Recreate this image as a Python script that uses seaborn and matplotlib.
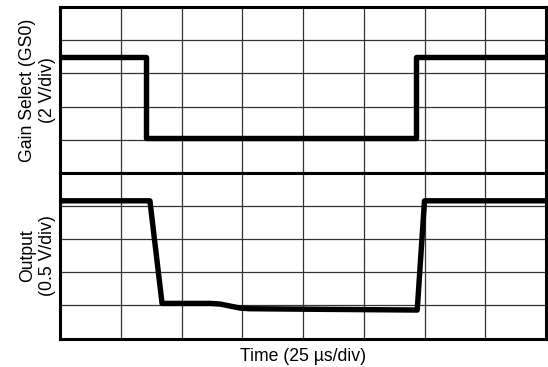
import numpy as np
import pandas as pd
import matplotlib
matplotlib.use("Agg")
import matplotlib.pyplot as plt
import seaborn as sns

# Gain select (GS0) trace, time in us, level in V
gs0_time = [0, 35.5, 35.5, 146.6, 146.6, 200]
gs0_volt = [4.9, 4.9, 0.0, 0.0, 4.9, 4.9]

# Output trace, time in us, level in V (offset reference)
out_time = [0, 37, 42, 62, 66, 70, 74, 78, 110, 147, 150, 200]
out_volt = [2.08, 2.08, 0.53, 0.53, 0.52, 0.49, 0.46, 0.45, 0.44, 0.43, 2.08, 2.08]

sns.set_style("white")
plt.rcParams['font.family'] = ['Liberation Sans', 'DejaVu Sans']
plt.rcParams['text.color'] = 'black'
plt.rcParams['axes.labelcolor'] = 'black'

gs0 = pd.DataFrame({'t': gs0_time, 'v': gs0_volt})
out = pd.DataFrame({'t': out_time, 'v': out_volt})

fig = plt.figure(figsize=(5.48, 3.67), dpi=100)
left, right = 60 / 548, 546 / 548
ax1 = fig.add_axes([left, 1 - 173 / 367, right - left, (173 - 7) / 367])
ax2 = fig.add_axes([left, 1 - 338.5 / 367, right - left, (338.5 - 173) / 367])

# top panel: 2 V/div, 5 divisions
sns.lineplot(data=gs0, x='t', y='v', ax=ax1, sort=False, estimator=None,
             color='black', linewidth=3.9)
ax1.set_ylim(-2.1, 7.9)
ax1.set_yticks(np.arange(-2.1, 7.95, 2.0))

# bottom panel: 0.5 V/div, 5 divisions
sns.lineplot(data=out, x='t', y='v', ax=ax2, sort=False, estimator=None,
             color='black', linewidth=3.9)
ax2.set_ylim(0, 2.5)
ax2.set_yticks(np.arange(0, 2.55, 0.5))

for ax in (ax1, ax2):
    ax.set_xlim(0, 200)
    ax.set_xticks(np.arange(0, 201, 25))
    ax.grid(True, color='#333333', linewidth=0.9)
    ax.tick_params(length=0, labelbottom=False, labelleft=False)
    for s in ax.spines.values():
        s.set_linewidth(2.2)
        s.set_color('black')
    ax.set_xlabel('')

ax1.set_ylabel('Gain Select (GS0)\n(2 V/div)', fontsize=12.7, labelpad=3,
               linespacing=1.2)
ax2.set_ylabel('Output\n(0.5 V/div)', fontsize=12.7, labelpad=3,
               linespacing=1.2)
ax2.set_xlabel('Time (25 µs/div)', fontsize=12.7, labelpad=7)

fig.savefig('out.png', dpi=100)
